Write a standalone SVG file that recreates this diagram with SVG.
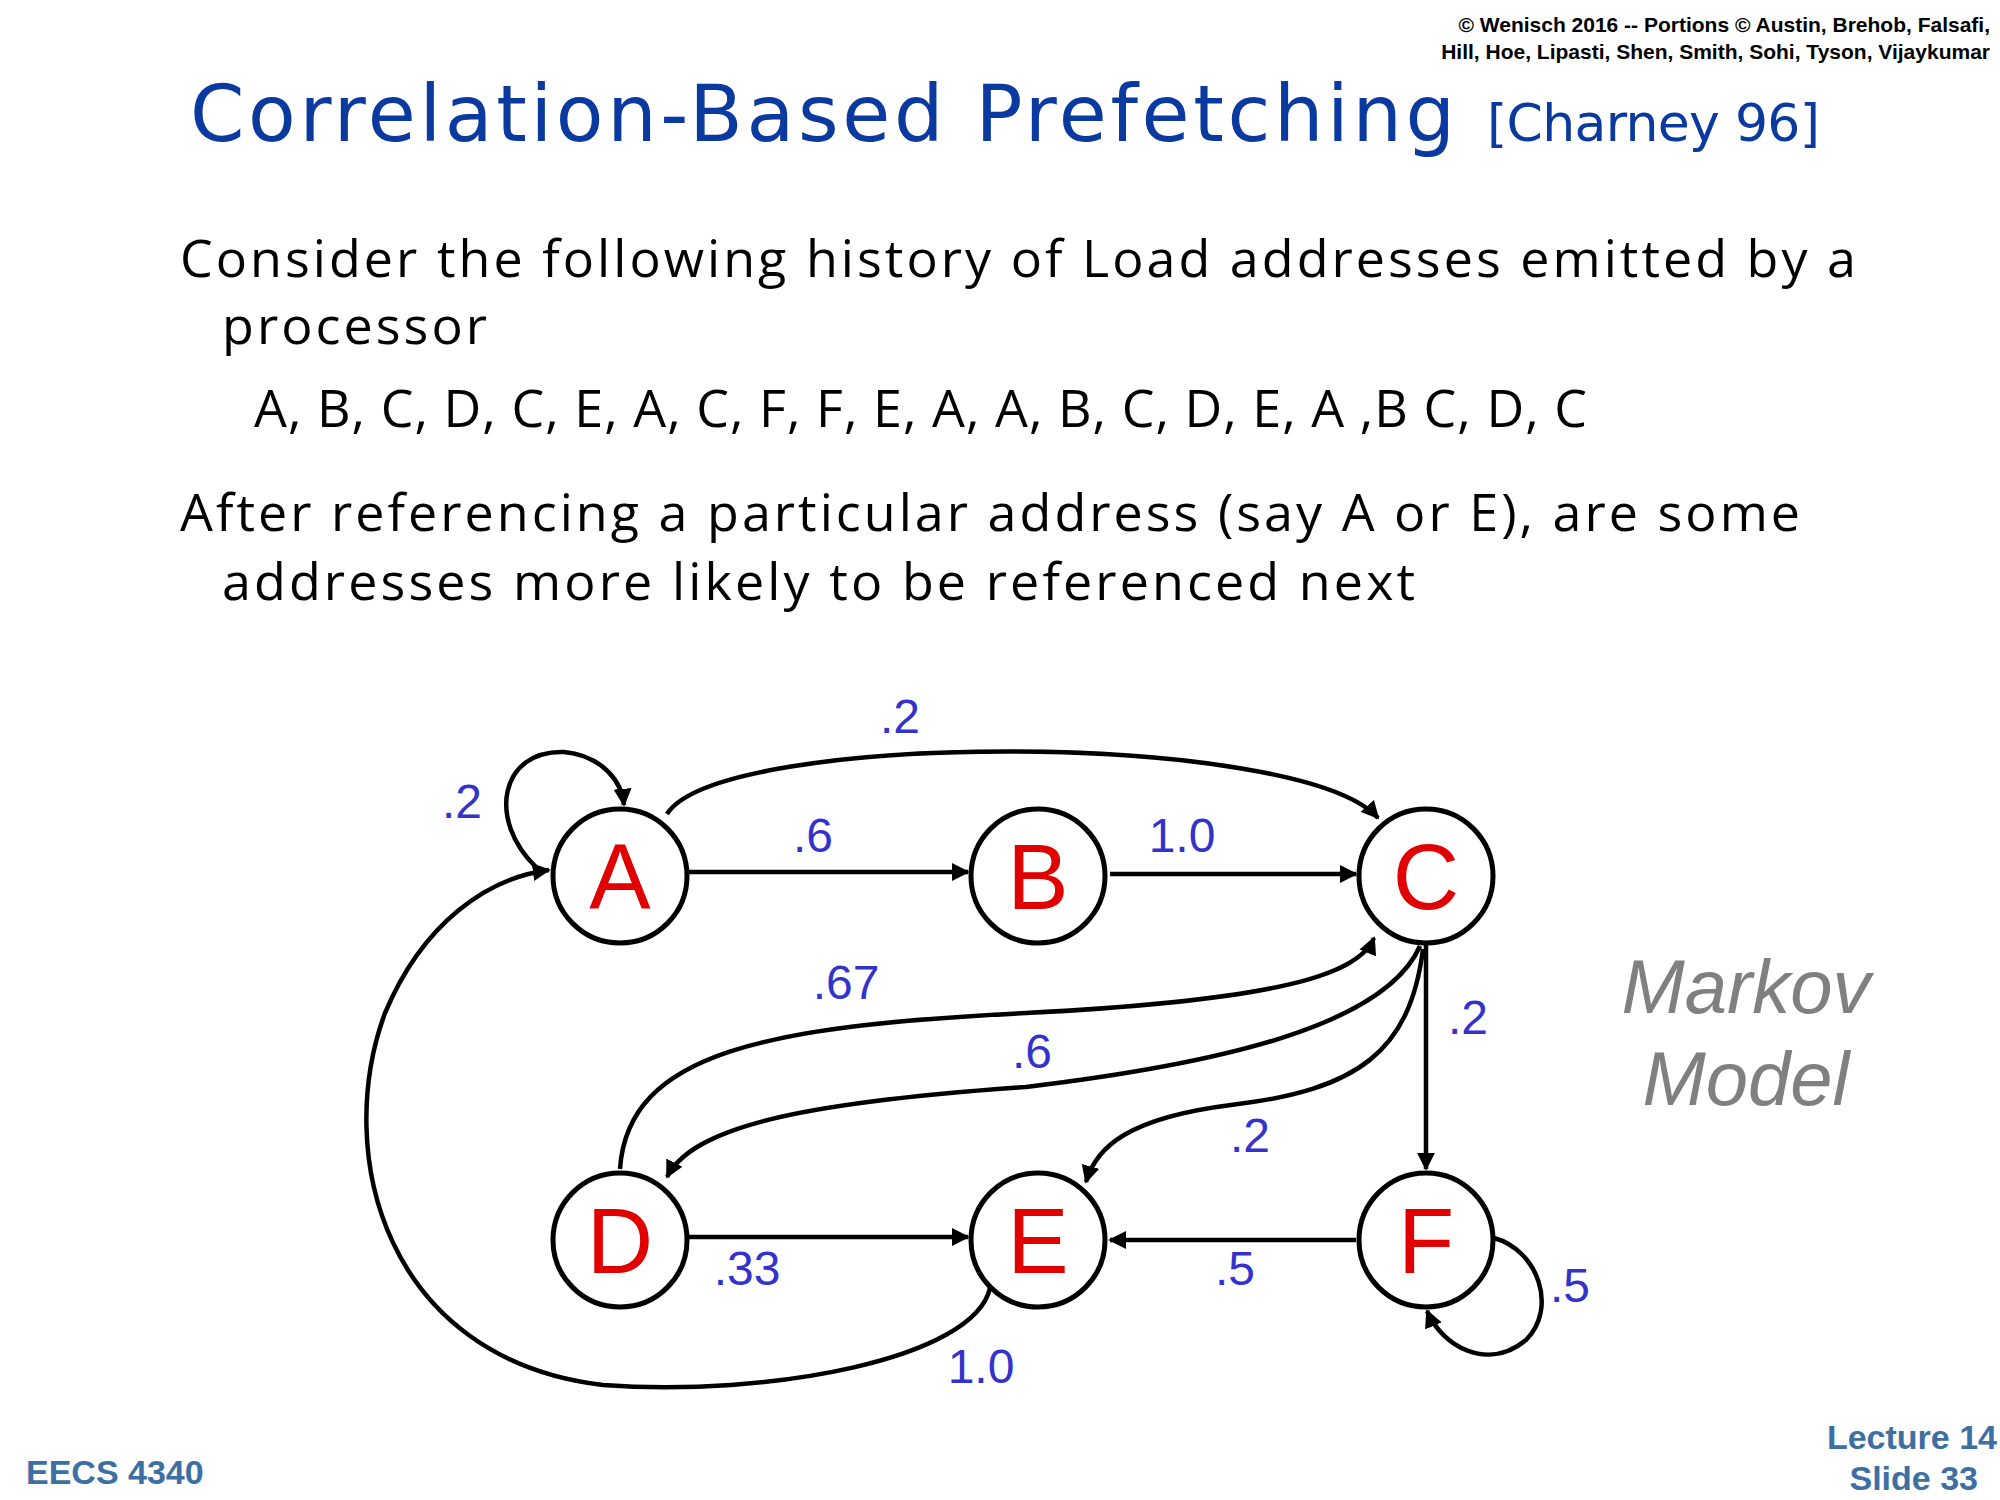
<svg xmlns="http://www.w3.org/2000/svg" width="2000" height="1500" viewBox="0 0 2000 1500">
<style>
.body{font-family:"Open Sans","Liberation Sans",sans-serif;font-size:52px;fill:#000}
.lbl{font-family:"Liberation Sans",Arial,sans-serif;font-size:48px;fill:#3333cc}
.node circle{fill:#fff;stroke:#000;stroke-width:5}
.node text{font-family:"Liberation Sans",Arial,sans-serif;font-size:92px;fill:#e00000;text-anchor:middle}
.e{fill:none;stroke:#000;stroke-width:4.5;marker-end:url(#ah)}
.foot{font-family:"Liberation Sans",sans-serif;font-weight:bold;font-size:34px;fill:#3d6fa3}
</style>
<defs><marker id="ah" viewBox="0 0 10 10" refX="9" refY="5" markerWidth="4" markerHeight="4" orient="auto" markerUnits="strokeWidth"><path d="M0,0 L10,5 L0,10 z" fill="#000"/></marker></defs>
<rect width="2000" height="1500" fill="#fff"/>
<g font-family="'Liberation Sans',sans-serif" font-weight="bold" font-size="21" text-anchor="end">
<text x="1990" y="32">© Wenisch 2016 -- Portions © Austin, Brehob, Falsafi,</text>
<text x="1990" y="59">Hill, Hoe, Lipasti, Shen, Smith, Sohi, Tyson, Vijaykumar</text>
</g>
<text x="190" y="141" font-family="'DejaVu Sans',sans-serif" font-size="78" fill="#0a3aa0" textLength="1265">Correlation-Based Prefetching</text>
<text x="1487" y="141" font-family="'DejaVu Sans',sans-serif" font-size="52" fill="#0a3aa0" textLength="333">[Charney 96]</text>
<text class="body" x="180" y="277" textLength="1676">Consider the following history of Load addresses emitted by a</text>
<text class="body" x="222" y="344" textLength="265">processor</text>
<text class="body" x="254" y="427" textLength="1333">A, B, C, D, C, E, A, C, F, F, E, A, A, B, C, D, E, A ,B C, D, C</text>
<text class="body" x="180" y="531" textLength="1620">After referencing a particular address (say A or E), are some</text>
<text class="body" x="222" y="600" textLength="1193">addresses more likely to be referenced next</text>
<g id="edges">
<path class="e" d="M688 872 L968 872"/>
<path class="e" d="M1110 874 L1356 874"/>
<path class="e" d="M667 814 C720 730 1300 730 1378 818"/>
<path class="e" d="M536 867 C487 820 500 750 564 752 C603 756 622 782 624 805"/>
<path class="e" d="M990 1288 C974 1359 769 1397 603 1385 C385 1359 333 1154 385 1013 C423 923 487 878 549 870"/>
<path class="e" d="M620 1169 C628 1051 769 1026 1026 1013 C1282 1000 1359 974 1374 938"/>
<path class="e" d="M1420 946 C1385 1026 1218 1064 1026 1087 C795 1103 692 1128 667 1177"/>
<path class="e" d="M1423 949 C1410 1051 1359 1090 1231 1105 C1128 1118 1096 1147 1086 1182"/>
<path class="e" d="M1426 945 L1426 1169"/>
<path class="e" d="M688 1237 L968 1237"/>
<path class="e" d="M1356 1240 L1110 1240"/>
<path class="e" d="M1494 1238 C1538 1250 1558 1308 1526 1340 C1487 1372 1442 1346 1427 1311"/>
</g>
<g id="A" class="node"><circle cx="620" cy="876" r="67"/><text x="620" y="909">A</text></g>
<g id="B" class="node"><circle cx="1038" cy="876" r="67"/><text x="1038" y="909">B</text></g>
<g id="C" class="node"><circle cx="1426" cy="876" r="67"/><text x="1426" y="909">C</text></g>
<g id="D" class="node"><circle cx="620" cy="1240" r="67"/><text x="620" y="1273">D</text></g>
<g id="E" class="node"><circle cx="1038" cy="1240" r="67"/><text x="1038" y="1273">E</text></g>
<g id="F" class="node"><circle cx="1426" cy="1240" r="67"/><text x="1426" y="1273">F</text></g>
<g id="labels" text-anchor="middle">
<text class="lbl" x="900" y="733">.2</text>
<text class="lbl" x="462" y="818">.2</text>
<text class="lbl" x="813" y="852">.6</text>
<text class="lbl" x="1182" y="852">1.0</text>
<text class="lbl" x="846" y="999">.67</text>
<text class="lbl" x="1032" y="1068">.6</text>
<text class="lbl" x="1468" y="1034">.2</text>
<text class="lbl" x="1250" y="1152">.2</text>
<text class="lbl" x="747" y="1285">.33</text>
<text class="lbl" x="1235" y="1285">.5</text>
<text class="lbl" x="1570" y="1302">.5</text>
<text class="lbl" x="981" y="1383">1.0</text>
</g>
<g font-family="'Liberation Sans',Arial,sans-serif" font-style="italic" font-size="76" fill="#808080" text-anchor="middle">
<text x="1746" y="1013">Markov</text>
<text x="1746" y="1105">Model</text>
</g>
<text class="foot" x="26" y="1484">EECS 4340</text>
<text class="foot" x="1997" y="1449" text-anchor="end">Lecture 14</text>
<text class="foot" x="1978" y="1490" text-anchor="end">Slide 33</text>
</svg>
